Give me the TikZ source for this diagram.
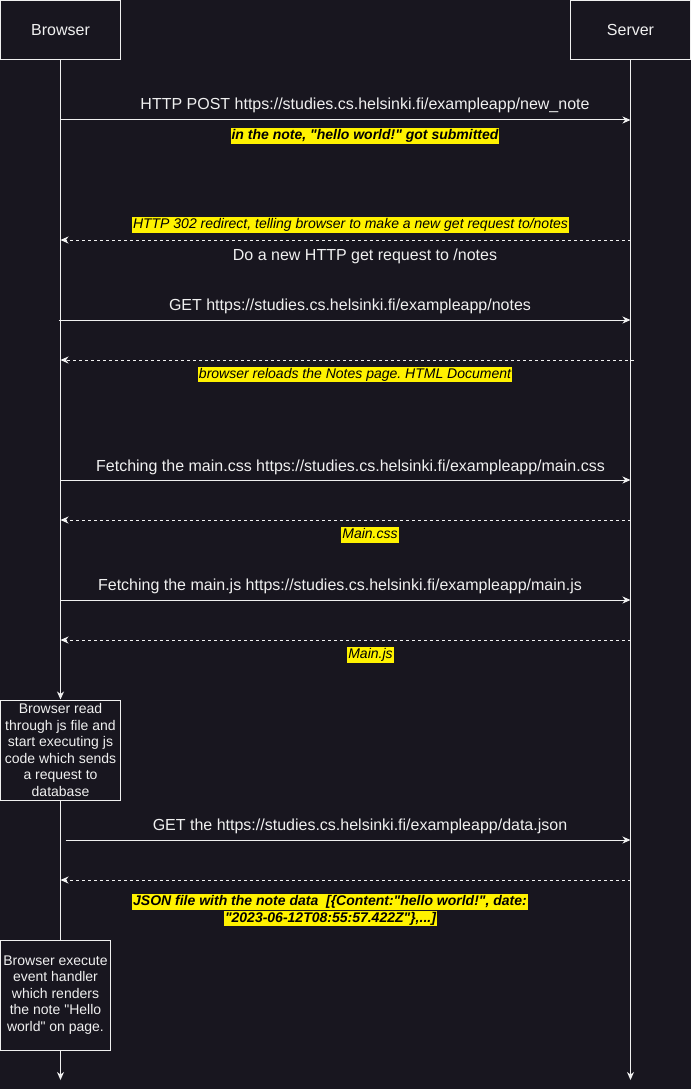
\documentclass[tikz,border=0pt]{standalone}
\usepackage{fontspec}
\setmainfont[Ligatures=TeXOff]{Liberation Sans}
\frenchspacing
\usetikzlibrary{arrows.meta}

\definecolor{diagbg}{RGB}{24,22,31}
\definecolor{diagline}{RGB}{240,240,240}

\def\seqbase{
    % \draw[help lines] (0, 0) grid[step=20] (691, 1089);
    \node [actorbox] (browser) at (60.5, 30) {Browser};
    \node [actorbox] (server) at (630.5, 30) {Server};
    \node [activity, minimum width=120, minimum height=100] (jsbox) at (60.5, 750)
      {Browser read\\through js file and\\start executing js\\code which sends\\a request to\\database};
    \node [activity, minimum width=110, minimum height=110] (renderbox) at (55.5, 995)
      {Browser execute\\event handler\\which renders\\the note "Hello\\world" on page.};
    \coordinate (browserend) at (60.5, 1080);
    \coordinate (serverend) at (630.5, 1080);
    \foreach \y in {120, 240, 320, 360, 480, 520, 600, 640, 840, 880} {
      \coordinate (b\y) at (60.5, \y);
      \coordinate (s\y) at (630.5, \y);
    }
  }

\begin{document}
\begin{tikzpicture}[x=1pt, y=-1pt,
    actorbox/.style={draw=diagline, line width=1pt, fill=diagbg, text=diagline, minimum width=120,
      minimum height=59, inner sep=0pt, font=\fontsize{16}{19}\selectfont},
    activity/.style={draw=diagline, line width=1pt, fill=diagbg, text=diagline, align=center,
      inner sep=0pt, font=\fontsize{14}{16.6}\selectfont},
    lifeline/.style={draw=diagline, line width=1pt, -{Stealth[length=8pt, width=7pt, inset=2.5pt]}},
    request/.style={lifeline},
    reply/.style={lifeline, dash pattern=on 3pt off 3pt},
    msglabel/.style={text=diagline, anchor=base, inner sep=0pt, font=\fontsize{16}{19}\selectfont},
    remark/.style={fill=yellow, text=black, inner xsep=1pt, inner ysep=0.5pt, text height=11pt,
      text depth=3.5pt, font=\fontsize{14}{16}\selectfont\itshape},
    boldremark/.style={remark, font=\fontsize{14}{16}\selectfont\bfseries\itshape}]
    \path[use as bounding box, fill=diagbg] (0, 0) rectangle (691, 1089);
    \seqbase
    % lifelines
    \path[lifeline] (browser.south) -- (jsbox.north);
    \path[draw=diagline, line width=1pt] (jsbox.south) -- (jsbox.south |- renderbox.north);
    \path[lifeline] (jsbox.south |- renderbox.south) -- (browserend);
    \path[lifeline] (server.south) -- (serverend);
    % posting the note
    \path[request] (b120) -- (s120);
    \node [msglabel] (postlbl) at (365, 110) {HTTP POST https://studies.cs.helsinki.fi/exampleapp/new\_note};
    \node [boldremark] (postnote) at (365, 136) {in the note, "hello world!" got submitted};
    % redirect
    \path[reply] (s240) -- (b240);
    \node [remark] (redirnote) at (350.5, 225) {HTTP 302 redirect, telling browser to make a new get request to/notes};
    \node [msglabel] (redirlbl) at (365, 260.5) {Do a new HTTP get request to /notes};
    % reloading the notes page
    \path[request] ([xshift=-2pt]b320) -- (s320);
    \node [msglabel] (getlbl) at (350, 310.5) {GET https://studies.cs.helsinki.fi/exampleapp/notes};
    \path[reply] ([xshift=3pt]s360) -- (b360);
    \node [remark] (htmlnote) at (355, 374.5) {browser reloads the Notes page. HTML Document~};
    % main.css
    \path[request] (b480) -- (s480);
    \node [msglabel] (csslbl) at (350.5, 471.5) {Fetching the main.css https://studies.cs.helsinki.fi/exampleapp/main.css};
    \path[reply] (s520) -- (b520);
    \node [remark] (cssnote) at (370, 535) {Main.css};
    % main.js
    \path[request] (b600) -- (s600);
    \node [msglabel] (jslbl) at (340, 590) {Fetching the main.js https://studies.cs.helsinki.fi/exampleapp/main.js};
    \path[reply] (s640) -- (b640);
    \node [remark] (jsnote) at (370.5, 655) {Main.js};
    % data.json
    \path[request] ([xshift=5pt]b840) -- (s840);
    \node [msglabel] (datalbl) at (360, 830) {GET the https://studies.cs.helsinki.fi/exampleapp/data.json};
    \path[reply] (s880) -- (b880);
    \node [boldremark] (jsonnote) at (330, 902) {JSON file with the note data~ [\{Content:"hello world!", date:};
    \node [boldremark] (jsonnotetail) at (330.5, 918.5) {"2023-06-12T08:55:57.422Z"\},...]};
  \end{tikzpicture}
\end{document}
